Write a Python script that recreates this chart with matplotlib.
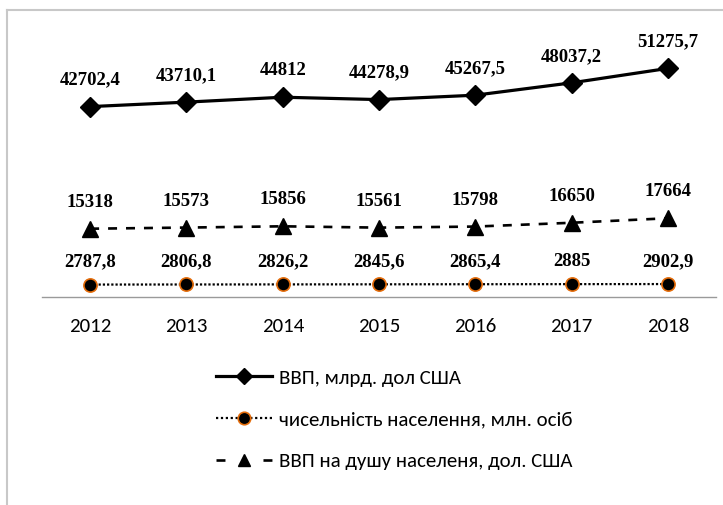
import matplotlib
matplotlib.use("Agg")
import matplotlib.pyplot as plt
from matplotlib.lines import Line2D
from matplotlib import font_manager

years = ["2012", "2013", "2014", "2015", "2016", "2017", "2018"]
gdp = [42702.4, 43710.1, 44812, 44278.9, 45267.5, 48037.2, 51275.7]
population = [2787.8, 2806.8, 2826.2, 2845.6, 2865.4, 2885, 2902.9]
gdp_per_capita = [15318, 15573, 15856, 15561, 15798, 16650, 17664]

gdp_labels = ["42702,4", "43710,1", "44812", "44278,9", "45267,5", "48037,2", "51275,7"]
pop_labels = ["2787,8", "2806,8", "2826,2", "2845,6", "2865,4", "2885", "2902,9"]
pc_labels = ["15318", "15573", "15856", "15561", "15798", "16650", "17664"]

series_names = ["ВВП, млрд. дол США",
                "чисельність населення, млн. осіб",
                "ВВП на душу населеня, дол. США"]

available = {f.name for f in font_manager.fontManager.ttflist}
sans = next((f for f in ["Carlito", "Open Sans", "Lato", "DejaVu Sans"] if f in available), "DejaVu Sans")
serif = "Liberation Serif" if "Liberation Serif" in available else "DejaVu Serif"

W, H = 723, 505
fig = plt.figure(figsize=(W / 100, H / 100), dpi=100)
ax = fig.add_axes([42 / W, 1 - 297 / H, (716 - 42) / W, (297 - 29.5) / H])

x = list(range(len(years)))
l1, = ax.plot(x, gdp, color="black", lw=2.3, marker="D", markersize=10,
              markerfacecolor="black", markeredgecolor="black")
l2, = ax.plot(x, population, color="black", lw=1.6, linestyle=(0, (1, 0.9)),
              marker="o", markersize=9.5, markerfacecolor="black",
              markeredgecolor="#E46C0A", markeredgewidth=1.2)
l3, = ax.plot(x, gdp_per_capita, color="black", lw=1.9, linestyle=(0, (3.4, 3.4)),
              marker="^", markersize=11, markerfacecolor="black",
              markeredgecolor="black")

ax.set_xlim(-0.5, len(years) - 0.5)
ax.set_ylim(0, 60000)

def label(vals, texts, off):
    for xi, v, t in zip(x, vals, texts):
        ax.annotate(t, (xi, v), xytext=(0, off), textcoords="offset pixels",
                    ha="center", va="baseline", fontsize=13.5, fontweight="bold",
                    family=serif)

label(gdp, gdp_labels, 22)
label(gdp_per_capita, pc_labels, 22)
label(population, pop_labels, 18)

for s in ["top", "right", "left"]:
    ax.spines[s].set_visible(False)
ax.spines["bottom"].set_color("#9A9A9A")
ax.spines["bottom"].set_linewidth(1.0)
ax.set_yticks([])
ax.set_xticks(x)
ax.set_xticklabels(years, fontsize=15, family=sans)
ax.tick_params(axis="x", length=0, pad=15)

# legend proxies mimicking the reference legend symbols
h1 = Line2D([], [], color="black", lw=2.3, marker="D", markersize=8,
            markerfacecolor="black", markeredgecolor="black")
h2 = Line2D([], [], color="black", lw=1.6, linestyle=(0, (1, 1.2)),
            marker="o", markersize=9, markerfacecolor="black",
            markeredgecolor="#E46C0A", markeredgewidth=1.2)
h3 = Line2D([], [], color="black", lw=1.9, linestyle=(0, (3.4, 14.4)),
            marker="^", markersize=8, markerfacecolor="black",
            markeredgecolor="black")

fig.legend([h1, h2, h3], series_names, loc="upper left",
           bbox_to_anchor=(216 / W, 1 - 369 / H), frameon=False,
           prop={"family": sans, "size": 15}, handlelength=2.7,
           handletextpad=0.34, labelspacing=1.17, borderpad=0, borderaxespad=0)

# outer light border (left and top)
fig.add_artist(Line2D([7 / W, 7 / W], [0, 1 - 10 / H], transform=fig.transFigure,
                      color="#C8C8C8", lw=1.5))
fig.add_artist(Line2D([7 / W, 1], [1 - 10 / H, 1 - 10 / H], transform=fig.transFigure,
                      color="#C8C8C8", lw=1.5))

fig.savefig("out.png", dpi=100)
